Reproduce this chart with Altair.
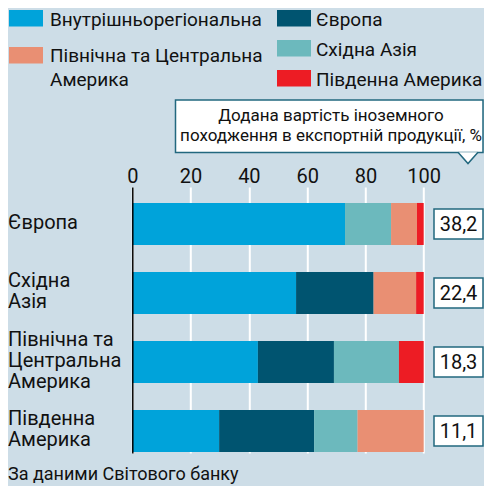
import altair as alt
import pandas as pd

# ---------------- data ----------------
regions = ["Європа", "Східна|Азія", "Північна та|Центральна|Америка", "Південна|Америка"]
sources = ["Внутрішньорегіональна", "Європа", "Східна Азія",
           "Північна та Центральна Америка", "Південна Америка"]
colors = ["#00a3da", "#005470", "#6cb9bd", "#e98f73", "#ed1c24"]

intra = [73.0, 56.2, 43.1, 29.8]
europe = [0.0, 26.6, 26.1, 32.6]
east_asia = [15.8, 0.0, 22.3, 14.9]
n_america = [8.9, 14.6, 0.0, 22.7]
s_america = [2.3, 2.6, 8.5, 0.0]
foreign_share = [38.2, 22.4, 18.3, 11.1]

x_ticks = [0, 20, 40, 60, 80, 100]
note_lines = ["Додана вартість іноземного", "походження в експортній продукції, %"]
source_note = "За даними Світового банку"

# ---------------- tables ----------------
series = [intra, europe, east_asia, n_america, s_america]
rows = []
for si, (src, vals) in enumerate(zip(sources, series)):
    for r, v in zip(regions, vals):
        rows.append({"region": r, "source": src, "value": v, "order": si})
df = pd.DataFrame(rows)

df_box = pd.DataFrame({
    "region": regions,
    "label": [f"{v:.1f}".replace(".", ",") for v in foreign_share],
})

LINE_H = 21
HALF_BAND = 21
lab_rows = []
for r in regions:
    parts = r.split("|")
    n = len(parts)
    for i, p in enumerate(parts):
        lab_rows.append({"region": r, "line": p,
                         "off": HALF_BAND + (i - (n - 1) / 2) * LINE_H - 1})
df_lab = pd.DataFrame(lab_rows)

FONT = "Roboto"
BG = "#cddde7"
BORDER = "#22687f"
TXT = "#111111"
W, H = 291.4, 266
OX, OY = 132.3, 187  # page position of plot origin


def vx(px):
    return px - OX


def vy(py):
    return py - OY


yscale = alt.Scale(domain=regions, paddingInner=0.391, paddingOuter=0.123, align=0.94)
xscale = alt.Scale(domain=[0, 100], nice=False)

bars = alt.Chart(df).mark_bar().encode(
    x=alt.X("value:Q", stack="zero", scale=xscale,
            axis=alt.Axis(orient="top", values=x_ticks, title=None, domain=False,
                          ticks=False, labelPadding=1, labelFontSize=20,
                          labelFont=FONT, labelColor=TXT, labelFlush=False, grid=True,
                          gridColor="white", gridWidth=2)),
    y=alt.Y("region:N", sort=regions, scale=yscale,
            axis=alt.Axis(title=None, ticks=False, domain=True, domainColor="black",
                          domainWidth=1.5, labels=False, zindex=1)),
    color=alt.Color("source:N", scale=alt.Scale(domain=sources, range=colors), legend=None),
    order=alt.Order("order:Q"),
)

ylabels = alt.Chart(df_lab).mark_text(font=FONT, fontSize=20, color=TXT,
                                      align="left", baseline="middle").encode(
    x=alt.value(vx(8)),
    y=alt.Y("region:N", sort=regions, scale=yscale),
    yOffset=alt.YOffset("off:Q", scale=None),
    text="line:N",
)

boxes = alt.Chart(df_box).mark_bar(size=30, orient="horizontal", fill="white",
                                   stroke=BORDER, strokeWidth=1.5).encode(
    x=alt.value(vx(434)), x2=alt.value(vx(483)),
    y=alt.Y("region:N", sort=regions, scale=yscale),
)
box_text = alt.Chart(df_box).mark_text(font=FONT, fontSize=20, color=TXT,
                                       align="center", baseline="middle", dy=1).encode(
    x=alt.value(vx(458.5)),
    y=alt.Y("region:N", sort=regions, scale=yscale),
    text="label:N",
)

one = pd.DataFrame({"k": [0]})

note_box = alt.Chart(one).mark_rect(fill="white", stroke=BORDER, strokeWidth=1.5).encode(
    x=alt.value(vx(175.5)), x2=alt.value(vx(483)),
    y=alt.value(vy(100)), y2=alt.value(vy(152.5)),
)
pointer = alt.Chart(one).mark_point(shape="M-1,-0.62L0,0.5L1,-0.62", size=400,
                                    filled=True, fill="white", stroke=BORDER,
                                    strokeWidth=1.5, opacity=1).encode(
    x=alt.value(vx(468)), y=alt.value(vy(158.5)),
)
note_text = []
for i, line in enumerate(note_lines):
    note_text.append(
        alt.Chart(pd.DataFrame({"t": [line]})).mark_text(
            font=FONT, fontSize=17, color=TXT, align="center", baseline="alphabetic"
        ).encode(x=alt.value(vx(331)), y=alt.value(vy(121 + 20 * i)), text="t:N")
    )

# manual legend
leg_layers = []
sq = [(9, 10), (277, 10), (277, 40), (9, 47), (277, 70)]
text_pos = [(50, [26]), (316, [26]), (316, [56]), (50, [62, 86]), (316, [86])]
leg_text = {
    0: [sources[0]],
    1: [sources[1]],
    2: [sources[2]],
    3: ["Північна та Центральна", "Америка"],
    4: [sources[4]],
}
for idx in range(5):
    x0, y0 = sq[idx]
    leg_layers.append(
        alt.Chart(one).mark_rect(color=colors[idx]).encode(
            x=alt.value(vx(x0)), x2=alt.value(vx(x0 + 34)),
            y=alt.value(vy(y0)), y2=alt.value(vy(y0 + 16.5)),
        )
    )
    tx, tys = text_pos[idx]
    for ty, line in zip(tys, leg_text[idx]):
        leg_layers.append(
            alt.Chart(pd.DataFrame({"t": [line]})).mark_text(
                font=FONT, fontSize=19, color=TXT, align="left", baseline="alphabetic"
            ).encode(x=alt.value(vx(tx)), y=alt.value(vy(ty)), text="t:N")
        )

src = alt.Chart(pd.DataFrame({"t": [source_note]})).mark_text(
    font=FONT, fontSize=18, color=TXT, align="left", baseline="alphabetic"
).encode(x=alt.value(vx(8)), y=alt.value(vy(480)), text="t:N")

chart = alt.layer(
    bars, ylabels, boxes, box_text, note_box, pointer, *note_text, *leg_layers, src
).properties(
    width=W, height=H,
    padding={"left": 124.3, "top": 179, "right": 60.3, "bottom": 33},
    autosize="none",
    background=BG,
).configure_view(stroke=None)

chart.save("out.html", embed_options={"renderer": "svg", "actions": False})
